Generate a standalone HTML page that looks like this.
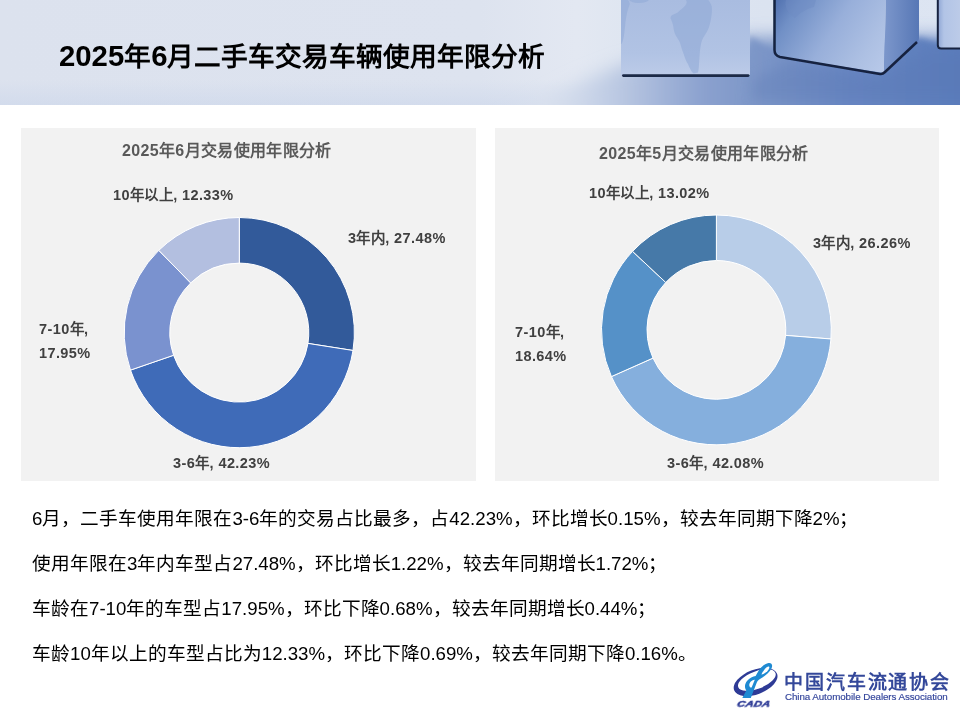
<!DOCTYPE html>
<html lang="zh-CN"><head><meta charset="utf-8">
<style>
*{margin:0;padding:0;box-sizing:border-box}
html,body{width:960px;height:720px;overflow:hidden;background:#fff}
body{position:relative;font-family:"Liberation Sans",sans-serif}
.a{position:absolute;white-space:nowrap;line-height:1;will-change:transform}
#hdr{position:absolute;left:0;top:0;width:960px;height:105px;background:#dce2ee;overflow:hidden}
.d{font-size:29.3px}
#title{left:59px;top:41.1px;font-size:26.67px;font-weight:bold;color:#000}
.panel{position:absolute;top:128px;height:353px;background:#f2f2f2}
.ct{font-size:16px;letter-spacing:0.35px;font-weight:bold;color:#595959}
.lb{font-size:14.5px;font-weight:bold;color:#404040;letter-spacing:0.4px}
.tx{font-size:18.67px;color:#000;left:32px}
</style></head><body>
<div id="hdr"><svg width="960" height="105" viewBox="0 0 960 105" style="position:absolute;left:0;top:0">
<defs>
<linearGradient id="bgH" x1="0" y1="0" x2="960" y2="0" gradientUnits="userSpaceOnUse">
<stop offset="0" stop-color="#dce2ee"/><stop offset="0.5" stop-color="#dde3ef"/><stop offset="0.6" stop-color="#e3e8f2"/><stop offset="0.65" stop-color="#dfe6f1"/><stop offset="0.8" stop-color="#dbe3f0"/><stop offset="1" stop-color="#dde5f2"/>
</linearGradient>
<linearGradient id="floor" x1="540" y1="0" x2="960" y2="0" gradientUnits="userSpaceOnUse">
<stop offset="0" stop-color="#dbe2ee"/><stop offset="0.095" stop-color="#ced8ea"/><stop offset="0.19" stop-color="#bac8e2"/><stop offset="0.286" stop-color="#a3b5d9"/><stop offset="0.381" stop-color="#8ca2cf"/><stop offset="0.524" stop-color="#7b95c7"/><stop offset="0.74" stop-color="#6886c2"/><stop offset="1" stop-color="#5b7dbc"/>
</linearGradient>
<linearGradient id="c1" x1="0" y1="0" x2="0" y2="76" gradientUnits="userSpaceOnUse">
<stop offset="0" stop-color="#a9bce0"/><stop offset="0.7" stop-color="#b1c3e4"/><stop offset="1" stop-color="#bccbe8"/>
</linearGradient>
<linearGradient id="c2f" x1="774" y1="0" x2="884" y2="72" gradientUnits="userSpaceOnUse">
<stop offset="0" stop-color="#4f6fae"/><stop offset="0.18" stop-color="#7190c6"/><stop offset="0.5" stop-color="#98afda"/><stop offset="0.8" stop-color="#adc0e3"/><stop offset="1" stop-color="#b8c9e9"/>
</linearGradient>
<linearGradient id="c2v" x1="0" y1="25" x2="0" y2="74" gradientUnits="userSpaceOnUse">
<stop offset="0" stop-color="#3d5da0" stop-opacity="0"/><stop offset="1" stop-color="#3d5da0" stop-opacity="0.35"/>
</linearGradient>
<linearGradient id="c2r" x1="886" y1="0" x2="918" y2="0" gradientUnits="userSpaceOnUse">
<stop offset="0" stop-color="#7a95ca"/><stop offset="1" stop-color="#5878b6"/>
</linearGradient>
<linearGradient id="c3" x1="937" y1="0" x2="960" y2="0" gradientUnits="userSpaceOnUse">
<stop offset="0" stop-color="#8aa2d2"/><stop offset="0.3" stop-color="#b2c4e6"/><stop offset="1" stop-color="#bccbe8"/>
</linearGradient>
<filter id="bl1" filterUnits="userSpaceOnUse" x="0" y="-20" width="960" height="140"><feGaussianBlur stdDeviation="0.7"/></filter>
<filter id="bl3" filterUnits="userSpaceOnUse" x="0" y="-20" width="960" height="140"><feGaussianBlur stdDeviation="3"/></filter>
<filter id="bl6" filterUnits="userSpaceOnUse" x="0" y="-20" width="960" height="140"><feGaussianBlur stdDeviation="6"/></filter>
<filter id="bl8" filterUnits="userSpaceOnUse" x="0" y="-20" width="960" height="140"><feGaussianBlur stdDeviation="9"/></filter>
</defs>
<rect x="0" y="0" width="960" height="105" fill="url(#bgH)"/>
<linearGradient id="bv" x1="0" y1="80" x2="0" y2="104" gradientUnits="userSpaceOnUse"><stop offset="0" stop-color="#c8d4ea" stop-opacity="0"/><stop offset="1" stop-color="#c8d4ea" stop-opacity="0.45"/></linearGradient>
<rect x="0" y="80" width="960" height="25" fill="url(#bv)"/>
<path d="M500,125 L545,100 L580,82 L620,66 L660,56 L750,38 L975,38 L975,125Z" fill="url(#floor)" filter="url(#bl8)"/>
<path d="M740,125 L750,36 L774,52 L860,40 L921,38 L940,44 L975,44 L975,125Z" fill="url(#floor)" filter="url(#bl3)"/>
<path d="M752,80 L790,62 L880,78 L930,48 L975,52 L975,100 L752,100Z" fill="#5473b0" opacity="0.25" filter="url(#bl6)"/>
<rect x="621" y="-2" width="129" height="77" fill="url(#c1)"/>
<path d="M686,0 L708.3,0 C710.5,3 712.2,6 712,9 C711.8,13 711.5,16 711,19 C710.2,23 709.4,26 708.3,29 C707,32 705.5,34 704,36.5 C702.5,39 701.5,41 701,44 C700.2,48 699.8,52 699.6,55.4 C699.3,60 699,63 698.9,66 C698.7,69 698.4,71 698,72.5 L693.8,73.5 C692.5,72.5 691.5,71.5 690.8,70 C689.5,68 688.8,66 688,64 C686.5,62 685.8,60 685,58 C684,55 683,52 682,49.6 C681,46 680.2,43 679.2,41 C677.5,38 675.8,36 674.8,33.5 C674,31 673.6,29 673.3,26.3 C672.8,23 671.5,21 670.4,18 C671,16 672,15 673.3,14.6 C675,13.8 676.5,13 677.7,12.4 C680,10.5 683,8 685,5.8 C686.5,4 687.5,2 686,0Z" fill="#8ea8d5" opacity="0.55"/>
<path d="M621,0 L628,0 C629.5,2 629.8,3 629.6,4.4 C628.5,8 627.2,11 626.7,14.6 C626,18 625.5,21 625.2,24.8 C624.8,29 624.3,33 623.8,36.5 C623.2,40 622.5,42 621.6,43.8 L621,44Z" fill="#8ea8d5" opacity="0.5"/>
<path d="M629,0 L649,0 C647,2 643,3.2 638,3 C634,2.8 631,2 629,0Z" fill="#8ea8d5" opacity="0.5"/>
<rect x="622" y="74.2" width="127.5" height="2.8" rx="1.4" fill="#1d2946" filter="url(#bl1)"/>
<path d="M774,0 L886,0 L884,73 L780,57 C776,56 774,54 774,50Z" fill="url(#c2f)"/>
<path d="M886,0 L919,0 L919,38 C919,40 918,42 916,43 L884,73Z" fill="url(#c2r)"/>
<path d="M774.5,0 L774.5,50 C774.5,54 776,56 780,57 L880,74 C882,74.5 883,74 885,72 L917,42" fill="none" stroke="#16223f" stroke-width="2.5" stroke-linejoin="round" filter="url(#bl1)"/>
<path d="M786,0 C784,6 788,14 795,18 C800,13 806,9 814,7 L816,0Z" fill="#6f8cc3" opacity="0.45"/>
<rect x="937" y="-2" width="25" height="50" fill="url(#c3)"/>
<path d="M937.8,0 L937.8,45 C937.8,47 939,48.5 941,48.5 L962,48.5" fill="none" stroke="#16223f" stroke-width="2" filter="url(#bl1)"/>
</svg></div>
<div class="a" id="title"><span class="d">2025</span>年<span class="d">6</span>月二手车交易车辆使用年限分析</div>

<div class="panel" style="left:21px;width:455px"></div>
<div class="panel" style="left:495px;width:444px"></div>

<svg style="position:absolute;left:0;top:0" width="960" height="720" viewBox="0 0 960 720">
<g stroke="#fff" stroke-width="1" stroke-linejoin="round">
<path d="M239.30,217.50A115.1,115.1 0 0 1 353.00,350.48L307.96,343.40A69.5,69.5 0 0 0 239.30,263.10Z" fill="#325a9a"/>
<path d="M353.00,350.48A115.1,115.1 0 0 1 130.48,370.11L173.59,355.25A69.5,69.5 0 0 0 307.96,343.40Z" fill="#3f6bb8"/>
<path d="M130.48,370.11A115.1,115.1 0 0 1 158.78,250.35L190.68,282.94A69.5,69.5 0 0 0 173.59,355.25Z" fill="#7a92cf"/>
<path d="M158.78,250.35A115.1,115.1 0 0 1 239.30,217.50L239.30,263.10A69.5,69.5 0 0 0 190.68,282.94Z" fill="#b3bfe0"/>
<path d="M716.40,215.00A114.9,114.9 0 0 1 830.94,338.99L785.58,335.39A69.4,69.4 0 0 0 716.40,260.50Z" fill="#b8cde8"/>
<path d="M830.94,338.99A114.9,114.9 0 0 1 611.41,376.59L652.99,358.10A69.4,69.4 0 0 0 785.58,335.39Z" fill="#85afdd"/>
<path d="M611.41,376.59A114.9,114.9 0 0 1 632.54,251.35L665.75,282.46A69.4,69.4 0 0 0 652.99,358.10Z" fill="#5591c8"/>
<path d="M632.54,251.35A114.9,114.9 0 0 1 716.40,215.00L716.40,260.50A69.4,69.4 0 0 0 665.75,282.46Z" fill="#4679a8"/>
</g>
</svg>

<div class="a ct" style="left:122px;top:142.8px">2025年6月交易使用年限分析</div>
<div class="a lb" style="left:113px;top:188px">10年以上, 12.33%</div>
<div class="a lb" style="left:348px;top:231px">3年内, 27.48%</div>
<div class="a lb" style="left:39px;top:322px">7-10年,</div>
<div class="a lb" style="left:39px;top:346px">17.95%</div>
<div class="a lb" style="left:173px;top:456px">3-6年, 42.23%</div>

<div class="a ct" style="left:599px;top:145.6px">2025年5月交易使用年限分析</div>
<div class="a lb" style="left:589px;top:186px">10年以上, 13.02%</div>
<div class="a lb" style="left:813px;top:236px">3年内, 26.26%</div>
<div class="a lb" style="left:515px;top:325px">7-10年,</div>
<div class="a lb" style="left:515px;top:349px">18.64%</div>
<div class="a lb" style="left:667.3px;top:456px">3-6年, 42.08%</div>

<div class="a tx" style="top:510px">6月，二手车使用年限在3-6年的交易占比最多，占42.23%，环比增长0.15%，较去年同期下降2%；</div>
<div class="a tx" style="top:555px">使用年限在3年内车型占27.48%，环比增长1.22%，较去年同期增长1.72%；</div>
<div class="a tx" style="top:600px">车龄在7-10年的车型占17.95%，环比下降0.68%，较去年同期增长0.44%；</div>
<div class="a tx" style="top:645px">车龄10年以上的车型占比为12.33%，环比下降0.69%，较去年同期下降0.16%。</div>

<svg style="position:absolute;left:728px;top:658px" width="56" height="54" viewBox="728 658 56 54">
<g transform="rotate(-21 755.6 682)">
<path fill-rule="evenodd" fill="#2e3b96" d="M732.6,682a23,12.2 0 1 0 46,0a23,12.2 0 1 0 -46,0Z M737.6,680.6a19.9,8.7 0 1 0 39.8,0a19.9,8.7 0 1 0 -39.8,0Z"/>
</g>
<path fill="#1f8ad2" d="M742.3,698 L750.8,698 L756.6,683 C757.2,681.4 758.3,680 760,679 C764.5,676.6 769.5,672.5 771.5,668.5 C773,665.2 771.8,662.6 768.6,663 C765.2,663.4 761.2,666.6 758.6,670.8 L755.6,676 C753,676.2 749.5,678 747,681 C744.6,684 744.3,688 746.3,690.4 Z"/>
<path fill="#fff" d="M761.4,674.5 C763.2,670.6 766,667.2 768.2,666.5 C769.6,666.1 769.8,667.6 768.6,669.5 C767,672 764,674.2 761.4,674.5Z"/>
<path fill="#fff" d="M749.6,686.4 C748.6,684.6 749.6,681.9 752.2,680.4 C753.2,679.8 754.2,679.6 754.8,679.7 L751.6,687.6 C750.8,687.6 750,687.2 749.6,686.4Z"/>
</svg>
<div class="a" style="left:736px;top:699.5px;font-size:8.6px;font-weight:bold;font-style:italic;color:#2e3b96;letter-spacing:0.2px;-webkit-text-stroke:0.5px #2e3b96;transform:scaleX(1.3) skewX(-12deg);transform-origin:0 100%">CADA</div>
<div class="a" style="left:784px;top:673px;font-family:'Liberation Serif',serif;font-size:19px;font-weight:bold;color:#34489a;letter-spacing:1.9px">中国汽车流通协会</div>
<div class="a" style="left:785px;top:691.8px;font-size:9.8px;color:#31439a;letter-spacing:-0.08px;-webkit-text-stroke:0.15px #31439a">China Automobile Dealers Association</div>

</body></html>
